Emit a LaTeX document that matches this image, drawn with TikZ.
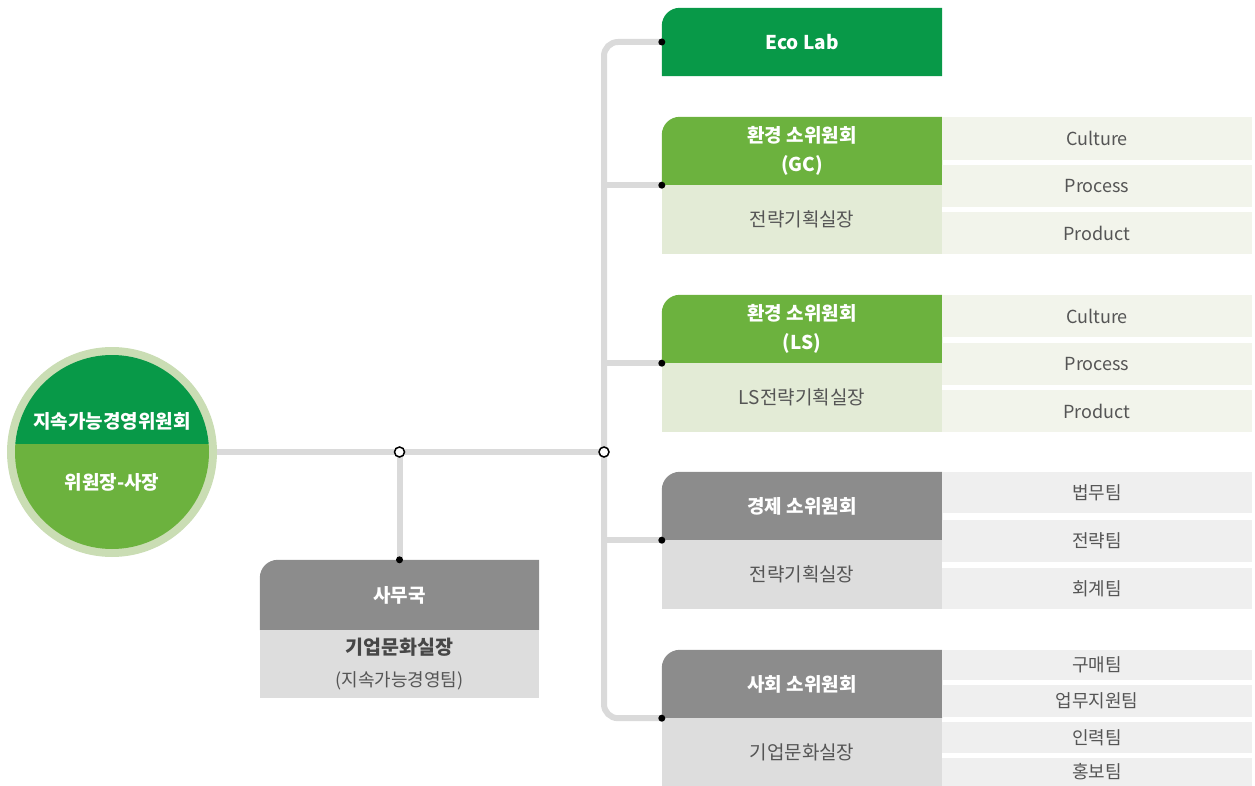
\documentclass[tikz,border=0pt]{standalone}
\usepackage{fontspec}
\setmainfont{Noto Sans CJK KR}
\definecolor{dgreen}{RGB}{8,153,72}
\definecolor{mgreen}{RGB}{108,178,62}
\definecolor{rim}{RGB}{202,221,180}
\definecolor{lgreen}{RGB}{227,235,214}
\definecolor{cgreen}{RGB}{242,244,235}
\definecolor{dgray}{RGB}{140,140,140}
\definecolor{lgray}{RGB}{221,221,221}
\definecolor{cgray}{RGB}{239,239,239}
\definecolor{linegray}{RGB}{218,218,218}
\definecolor{txt}{RGB}{85,85,85}
\pgfdeclarelayer{bg}
\pgfsetlayers{bg,main}
\newcommand\tlfill[2]{\begin{pgfonlayer}{bg}\fill[#2] (#1.south west) -- ([yshift=-18pt]#1.north west) arc[start angle=180,end angle=90,radius=18pt] -- (#1.north east) -- (#1.south east) -- cycle;\end{pgfonlayer}}
\begin{document}
\begin{tikzpicture}[x=1pt,y=-1pt,
  box/.style={rectangle, inner sep=0pt, minimum width=280pt},
  hdr/.style={font=\fontsize{19}{29}\selectfont\bfseries, text=white, align=center},
  sub/.style={font=\fontsize{19}{22}\selectfont, text=txt, align=center},
  cell/.style={rectangle, inner sep=0pt, minimum width=310pt, font=\fontsize{18}{21}\selectfont, text=txt},
  conn/.style={line width=6pt, draw=linegray},
  dot/.style={circle, fill=black, inner sep=0pt, minimum size=7pt},
  odot/.style={circle, draw=black, fill=white, line width=1.5pt, inner sep=0pt, minimum size=10pt}]
\useasboundingbox (0,0) rectangle (1255,786);

% chair circle
\node[circle, fill=rim, minimum size=210pt, inner sep=0pt] (com) at (112,452) {};
\begin{scope}
  \clip (com.center) circle[radius=97pt];
  \fill[dgreen] (0,340) rectangle (230,444);
  \fill[mgreen] (0,444) rectangle (230,570);
\end{scope}
\node[hdr] (comt) at (112,421) {지속가능경영위원회};
\node[hdr] (comb) at (112,482) {위원장-사장};

% secretariat
\node[box, hdr, minimum width=279pt, minimum height=70pt] (sat) at (399.5,595) {사무국};
\tlfill{sat}{dgray}
\node[box, minimum width=279pt, minimum height=68pt, fill=lgray, text=txt, align=center, font=\fontsize{18}{32}\selectfont] (sab) at (399.5,664)
  {{\fontsize{19.5}{32}\selectfont\bfseries\color{black!72}기업문화실장}\\(지속가능경영팀)};

% Eco Lab
\node[box, hdr, minimum height=68pt] (eco) at (802,42) {Eco Lab};
\tlfill{eco}{dgreen}

% GC
\node[box, hdr, minimum height=68pt] (gct) at (802,151) {환경 소위원회\\(GC)};
\tlfill{gct}{mgreen}
\node[box, sub, fill=lgreen, minimum height=69pt] (gcb) at (802,219.5) {전략기획실장};
\node[cell, fill=cgreen, minimum height=43pt] (gc1) at (1097,138.5) {Culture};
\node[cell, fill=cgreen, minimum height=42pt] (gc2) at (1097,186) {Process};
\node[cell, fill=cgreen, minimum height=42pt] (gc3) at (1097,233) {Product};

% LS
\node[box, hdr, minimum height=68pt] (lst) at (802,329) {환경 소위원회\\(LS)};
\tlfill{lst}{mgreen}
\node[box, sub, fill=lgreen, minimum height=69pt] (lsb) at (802,397.5) {LS전략기획실장};
\node[cell, fill=cgreen, minimum height=42pt] (ls1) at (1097,316) {Culture};
\node[cell, fill=cgreen, minimum height=42pt] (ls2) at (1097,364) {Process};
\node[cell, fill=cgreen, minimum height=42pt] (ls3) at (1097,411) {Product};

% economy
\node[box, hdr, minimum height=68pt] (gyt) at (802,506) {경제 소위원회};
\tlfill{gyt}{dgray}
\node[box, sub, fill=lgray, minimum height=69pt] (gyb) at (802,574.5) {전략기획실장};
\node[cell, fill=cgray, minimum height=41pt] (gy1) at (1097,492.5) {법무팀};
\node[cell, fill=cgray, minimum height=42pt] (gy2) at (1097,541) {전략팀};
\node[cell, fill=cgray, minimum height=41pt] (gy3) at (1097,588.5) {회계팀};

% society
\node[box, hdr, minimum height=68pt] (sht) at (802,684) {사회 소위원회};
\tlfill{sht}{dgray}
\node[box, sub, fill=lgray, minimum height=68pt] (shb) at (802,752) {기업문화실장};
\node[cell, fill=cgray, minimum height=30pt] (sh1) at (1097,665) {구매팀};
\node[cell, fill=cgray, minimum height=32pt] (sh2) at (1097,701) {업무지원팀};
\node[cell, fill=cgray, minimum height=31pt] (sh3) at (1097,737.5) {인력팀};
\node[cell, fill=cgray, minimum height=28pt] (sh4) at (1097,772) {홍보팀};

% connectors
\coordinate (j1) at (399.5,452);
\coordinate (j2) at (604,452);
\begin{pgfonlayer}{bg}
\draw[conn] (com.east) -- (j2);
\end{pgfonlayer}
\draw[conn] (j1) -- (sat.north);
\draw[conn, rounded corners=14pt] (eco.west) -| (j2) |- (sht.south west);
\draw[conn] (j2 |- gct.south west) -- (gct.south west);
\draw[conn] (j2 |- lst.south west) -- (lst.south west);
\draw[conn] (j2 |- gyt.south west) -- (gyt.south west);

\node[dot] (d0) at (sat.north) {};
\node[dot] (d1) at (eco.west) {};
\node[dot] (d2) at (gct.south west) {};
\node[dot] (d3) at (lst.south west) {};
\node[dot] (d4) at (gyt.south west) {};
\node[dot] (d5) at (sht.south west) {};
\node[odot] (o1) at (j1) {};
\node[odot] (o2) at (j2) {};
\end{tikzpicture}
\end{document}
